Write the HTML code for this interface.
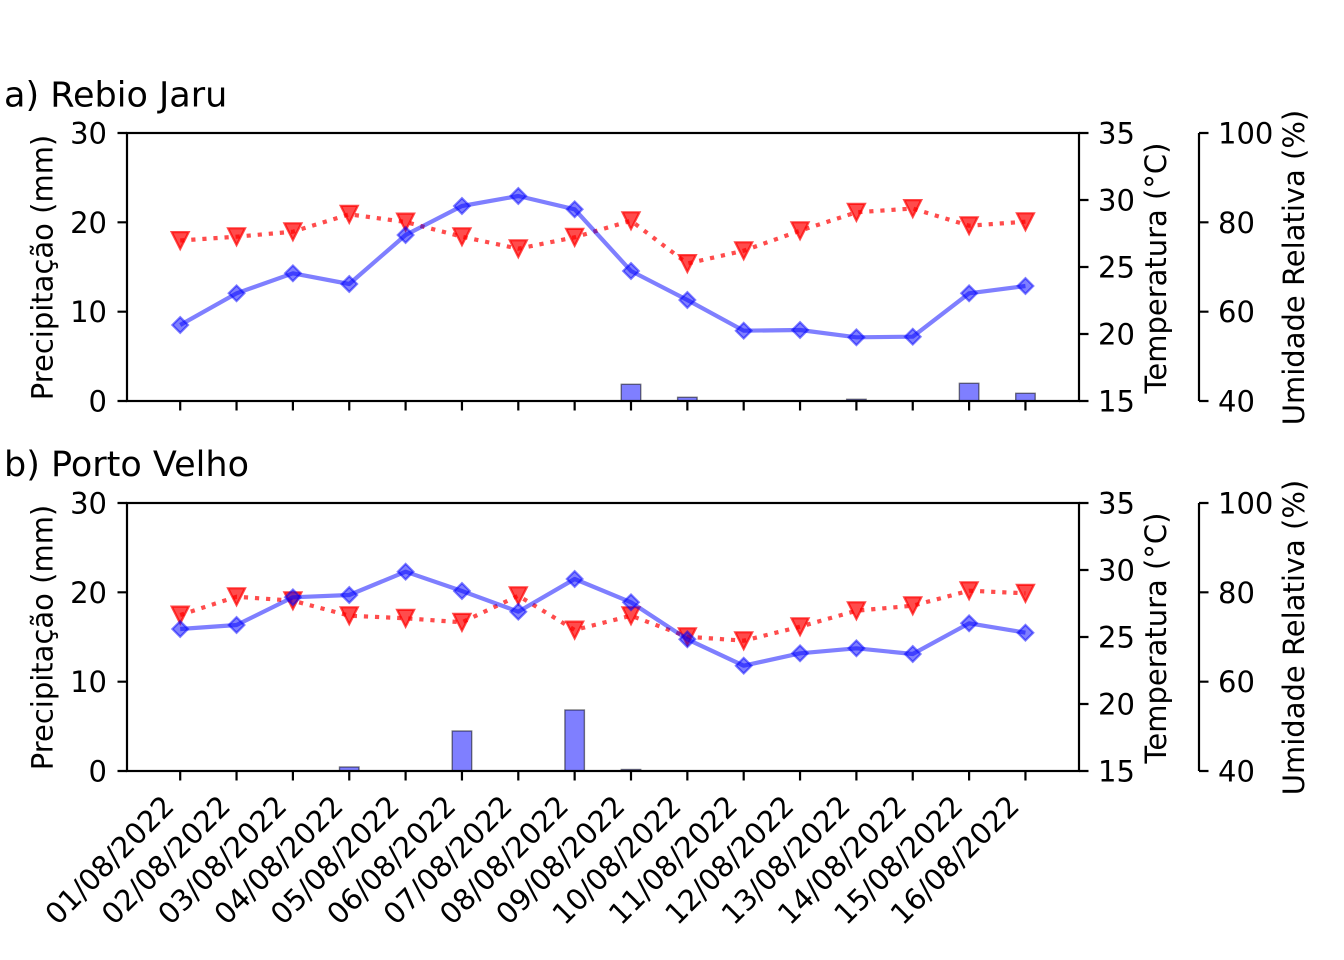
<!DOCTYPE html>
<html><head><meta charset="utf-8"><style>
html,body{margin:0;padding:0;background:#fff;}
svg{display:block;}
text{font-family:"DejaVu Sans","Liberation Sans",sans-serif;fill:#000;}
</style></head><body>
<svg width="1344" height="960" viewBox="0 0 1344 960" xmlns="http://www.w3.org/2000/svg">
<defs>
<path id="dia" d="M0,-7.8L7.8,0L0,7.8L-7.8,0Z"/>
<path id="tri" d="M-8.5,-8.4L8.5,-8.4L0,8.4Z"/>
</defs>
<rect width="1344" height="960" fill="#fff"/>

<!-- ===== Panel a ===== -->
<text x="4" y="106.5" font-size="35">a) Rebio Jaru</text>
<g fill="rgb(0,0,255)" fill-opacity="0.5" stroke="#000" stroke-opacity="0.5" stroke-width="1.4">
<rect x="621.25" y="384.3" width="19.5" height="16.7"/>
<rect x="677.6" y="397.3" width="19.5" height="3.7"/>
<rect x="846.65" y="399.3" width="19.5" height="1.7"/>
<rect x="959.35" y="383.3" width="19.5" height="17.7"/>
<rect x="1015.7" y="393.3" width="19.5" height="7.7"/>
</g>
<polyline fill="none" stroke="rgb(255,0,0)" stroke-opacity="0.7" stroke-width="4.2" stroke-dasharray="4.2 6.9" points="180.2,240.5 236.55,236.7 292.9,231.7 349.25,214.3 405.6,222 461.95,236.7 518.3,248.7 574.65,237.3 631,220.7 687.35,263.5 743.7,250.7 800.05,230.7 856.4,212.3 912.75,208.5 969.1,225.7 1025.45,221.7"/>
<g fill="rgb(255,0,0)" fill-opacity="0.7" stroke="rgb(255,0,0)" stroke-opacity="0.7" stroke-width="2.2">
<use href="#tri" x="180.2" y="240.5"/><use href="#tri" x="236.55" y="236.7"/><use href="#tri" x="292.9" y="231.7"/><use href="#tri" x="349.25" y="214.3"/><use href="#tri" x="405.6" y="222"/><use href="#tri" x="461.95" y="236.7"/><use href="#tri" x="518.3" y="248.7"/><use href="#tri" x="574.65" y="237.3"/><use href="#tri" x="631" y="220.7"/><use href="#tri" x="687.35" y="263.5"/><use href="#tri" x="743.7" y="250.7"/><use href="#tri" x="800.05" y="230.7"/><use href="#tri" x="856.4" y="212.3"/><use href="#tri" x="912.75" y="208.5"/><use href="#tri" x="969.1" y="225.7"/><use href="#tri" x="1025.45" y="221.7"/>
</g>
<polyline fill="none" stroke="rgb(0,0,255)" stroke-opacity="0.5" stroke-width="4.2" stroke-linejoin="round" points="180.2,325 236.55,293.3 292.9,273.3 349.25,284 405.6,235 461.95,206 518.3,196 574.65,209.3 631,271 687.35,300 743.7,330.7 800.05,330 856.4,337.3 912.75,336.7 969.1,293.3 1025.45,286"/>
<g fill="rgb(0,0,255)" fill-opacity="0.5" stroke="rgb(0,0,255)" stroke-opacity="0.5" stroke-width="2.2">
<use href="#dia" x="180.2" y="325"/><use href="#dia" x="236.55" y="293.3"/><use href="#dia" x="292.9" y="273.3"/><use href="#dia" x="349.25" y="284"/><use href="#dia" x="405.6" y="235"/><use href="#dia" x="461.95" y="206"/><use href="#dia" x="518.3" y="196"/><use href="#dia" x="574.65" y="209.3"/><use href="#dia" x="631" y="271"/><use href="#dia" x="687.35" y="300"/><use href="#dia" x="743.7" y="330.7"/><use href="#dia" x="800.05" y="330"/><use href="#dia" x="856.4" y="337.3"/><use href="#dia" x="912.75" y="336.7"/><use href="#dia" x="969.1" y="293.3"/><use href="#dia" x="1025.45" y="286"/>
</g>
<g stroke="#000" stroke-width="2.2" fill="none">
<rect x="127" y="133" width="952" height="268"/>
<line x1="1199" y1="133" x2="1199" y2="401"/>
<path d="M127,133H117.5M127,222.3H117.5M127,311.7H117.5M127,401H117.5"/>
<path d="M1079,133H1088.5M1079,200H1088.5M1079,267H1088.5M1079,334H1088.5M1079,401H1088.5"/>
<path d="M1199,133H1208.5M1199,222.3H1208.5M1199,311.7H1208.5M1199,401H1208.5"/>
<path d="M180.2,401V410.5M236.55,401V410.5M292.9,401V410.5M349.25,401V410.5M405.6,401V410.5M461.95,401V410.5M518.3,401V410.5M574.65,401V410.5M631,401V410.5M687.35,401V410.5M743.7,401V410.5M800.05,401V410.5M856.4,401V410.5M912.75,401V410.5M969.1,401V410.5M1025.45,401V410.5"/>
</g>
<g font-size="29">
<g text-anchor="end">
<text x="107" y="143.5">30</text><text x="107" y="232.8">20</text><text x="107" y="322.2">10</text><text x="107" y="411.5">0</text>
</g>
<text x="1098" y="143.5">35</text><text x="1098" y="210.5">30</text><text x="1098" y="277.5">25</text><text x="1098" y="344.5">20</text><text x="1098" y="411.5">15</text>
<text x="1218" y="143.5">100</text><text x="1218" y="232.8">80</text><text x="1218" y="322.2">60</text><text x="1218" y="411.5">40</text>
<text text-anchor="middle" transform="translate(52.5,267.5) rotate(-90)">Precipitação (mm)</text>
<text text-anchor="middle" transform="translate(1166,268) rotate(-90)">Temperatura (°C)</text>
<text text-anchor="middle" transform="translate(1304,267.5) rotate(-90)">Umidade Relativa (%)</text>
</g>

<!-- ===== Panel b ===== -->
<text x="4" y="476" font-size="35">b) Porto Velho</text>
<g fill="rgb(0,0,255)" fill-opacity="0.5" stroke="#000" stroke-opacity="0.5" stroke-width="1.4">
<rect x="339.5" y="767" width="19.5" height="4"/>
<rect x="452.2" y="731" width="19.5" height="40"/>
<rect x="564.9" y="710" width="19.5" height="61"/>
<rect x="621.25" y="769.5" width="19.5" height="1.5"/>
</g>
<polyline fill="none" stroke="rgb(255,0,0)" stroke-opacity="0.7" stroke-width="4.2" stroke-dasharray="4.2 6.9" points="180.2,615 236.55,596.7 292.9,600.7 349.25,615.7 405.6,618.3 461.95,622.3 518.3,595.7 574.65,630 631,615.7 687.35,636.7 743.7,640.7 800.05,626.7 856.4,610.7 912.75,605.7 969.1,590.7 1025.45,593.3"/>
<g fill="rgb(255,0,0)" fill-opacity="0.7" stroke="rgb(255,0,0)" stroke-opacity="0.7" stroke-width="2.2">
<use href="#tri" x="180.2" y="615"/><use href="#tri" x="236.55" y="596.7"/><use href="#tri" x="292.9" y="600.7"/><use href="#tri" x="349.25" y="615.7"/><use href="#tri" x="405.6" y="618.3"/><use href="#tri" x="461.95" y="622.3"/><use href="#tri" x="518.3" y="595.7"/><use href="#tri" x="574.65" y="630"/><use href="#tri" x="631" y="615.7"/><use href="#tri" x="687.35" y="636.7"/><use href="#tri" x="743.7" y="640.7"/><use href="#tri" x="800.05" y="626.7"/><use href="#tri" x="856.4" y="610.7"/><use href="#tri" x="912.75" y="605.7"/><use href="#tri" x="969.1" y="590.7"/><use href="#tri" x="1025.45" y="593.3"/>
</g>
<polyline fill="none" stroke="rgb(0,0,255)" stroke-opacity="0.5" stroke-width="4.2" stroke-linejoin="round" points="180.2,629 236.55,625 292.9,597.3 349.25,595 405.6,571.7 461.95,591 518.3,611.7 574.65,579 631,602.3 687.35,639.3 743.7,665.7 800.05,653.3 856.4,648.3 912.75,654 969.1,623.3 1025.45,632.7"/>
<g fill="rgb(0,0,255)" fill-opacity="0.5" stroke="rgb(0,0,255)" stroke-opacity="0.5" stroke-width="2.2">
<use href="#dia" x="180.2" y="629"/><use href="#dia" x="236.55" y="625"/><use href="#dia" x="292.9" y="597.3"/><use href="#dia" x="349.25" y="595"/><use href="#dia" x="405.6" y="571.7"/><use href="#dia" x="461.95" y="591"/><use href="#dia" x="518.3" y="611.7"/><use href="#dia" x="574.65" y="579"/><use href="#dia" x="631" y="602.3"/><use href="#dia" x="687.35" y="639.3"/><use href="#dia" x="743.7" y="665.7"/><use href="#dia" x="800.05" y="653.3"/><use href="#dia" x="856.4" y="648.3"/><use href="#dia" x="912.75" y="654"/><use href="#dia" x="969.1" y="623.3"/><use href="#dia" x="1025.45" y="632.7"/>
</g>
<g stroke="#000" stroke-width="2.2" fill="none">
<rect x="127" y="503" width="952" height="268"/>
<line x1="1199" y1="503" x2="1199" y2="771"/>
<path d="M127,503H117.5M127,592.3H117.5M127,681.7H117.5M127,771H117.5"/>
<path d="M1079,503H1088.5M1079,570H1088.5M1079,637H1088.5M1079,704H1088.5M1079,771H1088.5"/>
<path d="M1199,503H1208.5M1199,592.3H1208.5M1199,681.7H1208.5M1199,771H1208.5"/>
<path d="M180.2,771V780.5M236.55,771V780.5M292.9,771V780.5M349.25,771V780.5M405.6,771V780.5M461.95,771V780.5M518.3,771V780.5M574.65,771V780.5M631,771V780.5M687.35,771V780.5M743.7,771V780.5M800.05,771V780.5M856.4,771V780.5M912.75,771V780.5M969.1,771V780.5M1025.45,771V780.5"/>
</g>
<g font-size="29">
<g text-anchor="end">
<text x="107" y="513.5">30</text><text x="107" y="602.8">20</text><text x="107" y="692.2">10</text><text x="107" y="781.5">0</text>
</g>
<text x="1098" y="513.5">35</text><text x="1098" y="580.5">30</text><text x="1098" y="647.5">25</text><text x="1098" y="714.5">20</text><text x="1098" y="781.5">15</text>
<text x="1218" y="513.5">100</text><text x="1218" y="602.8">80</text><text x="1218" y="692.2">60</text><text x="1218" y="781.5">40</text>
<text text-anchor="middle" transform="translate(52.5,637.5) rotate(-90)">Precipitação (mm)</text>
<text text-anchor="middle" transform="translate(1166,638) rotate(-90)">Temperatura (°C)</text>
<text text-anchor="middle" transform="translate(1304,637.5) rotate(-90)">Umidade Relativa (%)</text>
<g text-anchor="end">
<text transform="translate(175.7,808) rotate(-45)">01/08/2022</text>
<text transform="translate(232.05,808) rotate(-45)">02/08/2022</text>
<text transform="translate(288.4,808) rotate(-45)">03/08/2022</text>
<text transform="translate(344.75,808) rotate(-45)">04/08/2022</text>
<text transform="translate(401.1,808) rotate(-45)">05/08/2022</text>
<text transform="translate(457.45,808) rotate(-45)">06/08/2022</text>
<text transform="translate(513.8,808) rotate(-45)">07/08/2022</text>
<text transform="translate(570.15,808) rotate(-45)">08/08/2022</text>
<text transform="translate(626.5,808) rotate(-45)">09/08/2022</text>
<text transform="translate(682.85,808) rotate(-45)">10/08/2022</text>
<text transform="translate(739.2,808) rotate(-45)">11/08/2022</text>
<text transform="translate(795.55,808) rotate(-45)">12/08/2022</text>
<text transform="translate(851.9,808) rotate(-45)">13/08/2022</text>
<text transform="translate(908.25,808) rotate(-45)">14/08/2022</text>
<text transform="translate(964.6,808) rotate(-45)">15/08/2022</text>
<text transform="translate(1020.95,808) rotate(-45)">16/08/2022</text>
</g>
</g>
</svg>
</body></html>
